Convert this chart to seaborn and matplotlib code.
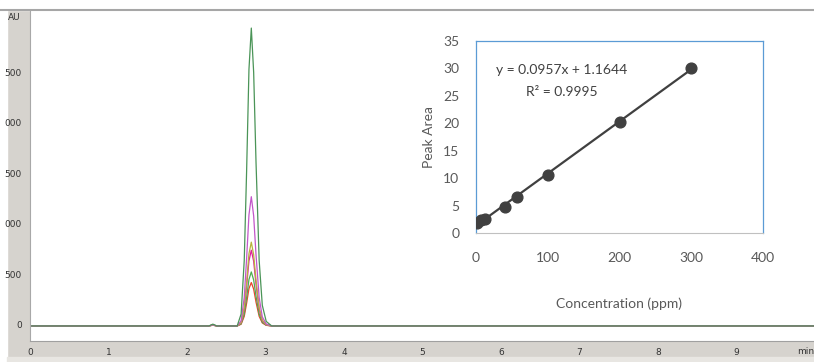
import numpy as np
import pandas as pd
import seaborn as sns
import matplotlib.pyplot as plt
from matplotlib.patches import Rectangle
from matplotlib.lines import Line2D
from matplotlib.transforms import blended_transform_factory
from matplotlib.ticker import MultipleLocator

# chromatogram traces (retention time in min, signal in mAU)
time_min = [0, 2.28, 2.33, 2.38, 2.64, 2.69, 2.73, 2.76, 2.79, 2.82, 2.85, 2.88, 2.92, 2.96, 3.01, 3.08, 10]
trace_std300 = [0, 0, 18, 0, 0, 118, 650, 1530, 2540, 2950, 2510, 1620, 650, 205, 45, 0, 0]
trace_std200 = [0, 0, 12, 0, 0, 51, 282, 665, 1100, 1280, 1090, 705, 282, 90, 19, 0, 0]
trace_std100 = [0, 0, 10, 0, 0, 33, 183, 430, 715, 830, 705, 455, 183, 58, 12, 0, 0]
trace_std60 = [0, 0, 10, 0, 0, 30, 165, 390, 645, 750, 640, 412, 165, 52, 11, 0, 0]
trace_std40 = [0, 0, 8, 0, 0, 21, 118, 278, 460, 535, 455, 294, 118, 37, 8, 0, 0]
trace_std10 = [0, 0, 8, 0, 0, 17, 95, 224, 370, 430, 365, 236, 95, 30, 6, 0, 0]

# calibration curve
conc_ppm = [2, 7, 12, 40, 57, 100, 200, 300]
peak_area = [1.9, 2.3, 2.6, 4.8, 6.6, 10.5, 20.2, 30.1]

# y tick labels as they show in the window (left digits hidden by the frame)
y_tick_vals = [0, 500, 1000, 1500, 2000, 2500]
y_tick_text = ['0', '500', '000', '500', '000', '500']
x_ticks = [0, 1, 2, 3, 4, 5, 6, 7, 8, 9]

sns.set_style("white")
plt.rcParams['font.family'] = ['DejaVu Sans']

W, H = 814, 362
fig = plt.figure(figsize=(W / 100, H / 100), dpi=100)
fig.patch.set_facecolor('#d6d3ce')


def fx(px):
    return px / W


def fy(py):
    return 1 - py / H


# white margins and window chrome
fig.add_artist(Rectangle((0, fy(10)), 1, 10 / H, transform=fig.transFigure, color='white', zorder=0))
fig.add_artist(Rectangle((0, 0), fx(7), 1, transform=fig.transFigure, color='white', zorder=0))
fig.add_artist(Rectangle((fx(7), 0), 1, 5 / H, transform=fig.transFigure, color='#e8e6e2', zorder=0))
fig.add_artist(Line2D([0, 1], [fy(10), fy(10)], transform=fig.transFigure, color='#a6a6a6', lw=1.5))

# main chromatogram
ax = fig.add_axes([fx(30), fy(341), fx(784), (341 - 11) / H])
ax.set_facecolor('white')
traces = [
    (trace_std10, '#e8452c'),
    (trace_std40, '#4caf50'),
    (trace_std60, '#e0209b'),
    (trace_std100, '#b8b43e'),
    (trace_std200, '#c257c9'),
    (trace_std300, '#4a9457'),
]
for vals, col in traces:
    sns.lineplot(x=time_min, y=vals, color=col, lw=0.9, ax=ax, sort=False, estimator=None)

ax.set_xlim(0, 9.99)
ax.set_ylim(-149, 3119)
for s in ['top', 'right']:
    ax.spines[s].set_visible(False)
ax.spines['left'].set_color('#a8a8a8')
ax.spines['bottom'].set_color('#a0a0a0')
ax.yaxis.set_major_locator(MultipleLocator(500))
ax.yaxis.set_minor_locator(MultipleLocator(100))
ax.xaxis.set_major_locator(MultipleLocator(1))
ax.xaxis.set_minor_locator(MultipleLocator(0.2))
ax.tick_params(axis='y', which='major', direction='out', length=4, color='#8c8c8c', labelleft=False)
ax.tick_params(axis='y', which='minor', direction='out', length=2, color='#8c8c8c')
ax.tick_params(axis='x', which='major', direction='out', length=3, color='#8c8c8c',
               labelsize=6.5, labelcolor='#333333', pad=2)
ax.tick_params(axis='x', which='minor', direction='in', length=2, color='#8c8c8c')
ax.set_xticks(x_ticks)
ax.set_xlabel('')
ax.set_ylabel('')

ytr = blended_transform_factory(fig.transFigure, ax.transData)
for v, s in zip(y_tick_vals, y_tick_text):
    fig.text(fx(22), v, s, transform=ytr, ha='right', va='center',
             fontsize=6.5, color='#333333')
fig.text(fx(8), fy(18), 'AU', ha='left', va='center', fontsize=6.5, color='#333333')
fig.text(fx(797), fy(351), 'min', ha='left', va='center', fontsize=6.5, color='#333333')

# inset calibration curve
ins = fig.add_axes([fx(476), fy(233), fx(287), 192 / H])
ins.set_facecolor('white')
sns.regplot(x=conc_ppm, y=peak_area, ci=None, ax=ins, color='#404040',
            scatter_kws={'s': 60, 'alpha': 1, 'zorder': 3},
            line_kws={'lw': 1.6})
ins.set_xlim(0, 400)
ins.set_ylim(0, 35)
ins.set_xticks([0, 100, 200, 300, 400])
ins.set_yticks([0, 5, 10, 15, 20, 25, 30, 35])
for s in ['top', 'right', 'left']:
    ins.spines[s].set_color('#5b9bd5')
    ins.spines[s].set_linewidth(0.9)
ins.spines['bottom'].set_color('#c0c0c0')
ins.tick_params(length=0, labelsize=10, labelcolor='#595959')
ins.tick_params(axis='y', pad=12)
ins.tick_params(axis='x', pad=14)
for lbl in ins.get_xticklabels() + ins.get_yticklabels():
    lbl.set_family('Lato')
ins.set_xlabel('Concentration (ppm)', family='Lato', fontsize=10, color='#595959', labelpad=24)
ins.set_ylabel('Peak Area', family='Lato', fontsize=10, color='#595959', labelpad=6)
ins.text(0.30, 0.849, 'y = 0.0957x + 1.1644', transform=ins.transAxes,
         ha='center', va='center', fontsize=10, family='Lato', color='#404040')
ins.text(0.30, 0.734, 'R\u00b2 = 0.9995', transform=ins.transAxes,
         ha='center', va='center', fontsize=10, family='Lato', color='#404040')

fig.savefig('out.png', dpi=100, facecolor=fig.get_facecolor())
